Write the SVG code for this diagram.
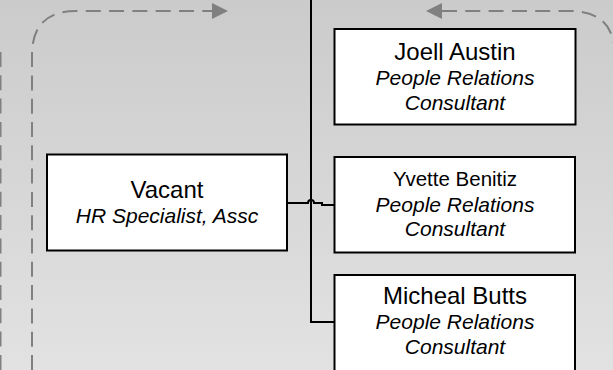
<svg xmlns="http://www.w3.org/2000/svg" width="613" height="370" viewBox="0 0 613 370">
  <defs>
    <linearGradient id="bg" x1="0" y1="0" x2="0" y2="1">
      <stop offset="0" stop-color="#cbcbcb"/>
      <stop offset="1" stop-color="#e2e2e2"/>
    </linearGradient>
    <style>
      .box { fill: #ffffff; stroke: #000000; stroke-width: 2; }
      .name { font-family: "Liberation Sans", Arial, sans-serif; font-size: 24px; fill: #000; text-anchor: middle; }
      .title { font-family: "Liberation Sans", Arial, sans-serif; font-size: 21px; font-style: italic; fill: #000; text-anchor: middle; }
      .dash { fill: none; stroke: #808080; stroke-width: 2; stroke-dasharray: 15 8.3; }
      .conn { fill: none; stroke: #000000; stroke-width: 2; }
      .head { fill: #808080; }
    </style>
  </defs>
  <rect x="0" y="0" width="613" height="370" fill="url(#bg)"/>

  <g id="connectors">
    <path class="dash" d="M32,370 L32,55 Q32,11 76,11 L212,11"/>
    <polygon class="head" points="228,11 212,3 212,19"/>
    <path class="dash" d="M442,11 L570,11 Q615,11 615,56"/>
    <polygon class="head" points="426,11 442,3 442,19"/>
    <path class="dash" d="M0.5,52 L0.5,370"/>
    <path class="conn" d="M311,0 L311,322 L334,322"/>
    <path class="conn" stroke-width="1.6" d="M287,203 L308,203 A3,3 0 0 1 314,203 L322,203 L322,205 L334,205"/>
  </g>

  <g id="joell">
    <rect class="box" x="334.5" y="29" width="241" height="95.5"/>
    <text class="name" x="455" y="60">Joell Austin</text>
    <text class="title" x="455" y="85">People Relations</text>
    <text class="title" x="455" y="110">Consultant</text>
  </g>

  <g id="vacant">
    <rect class="box" x="47" y="154.5" width="240" height="96"/>
    <text class="name" x="167" y="197.5">Vacant</text>
    <text class="title" x="167" y="223">HR Specialist, Assc</text>
  </g>

  <g id="yvette">
    <rect class="box" x="334.5" y="157" width="240.5" height="95.5"/>
    <text class="name" x="455" y="186" style="font-size:20.5px">Yvette Benitiz</text>
    <text class="title" x="455" y="211.5">People Relations</text>
    <text class="title" x="455" y="236">Consultant</text>
  </g>

  <g id="micheal">
    <rect class="box" x="334.5" y="275" width="240.5" height="110"/>
    <text class="name" x="455" y="304">Micheal Butts</text>
    <text class="title" x="455" y="329">People Relations</text>
    <text class="title" x="455" y="354">Consultant</text>
  </g>
</svg>
